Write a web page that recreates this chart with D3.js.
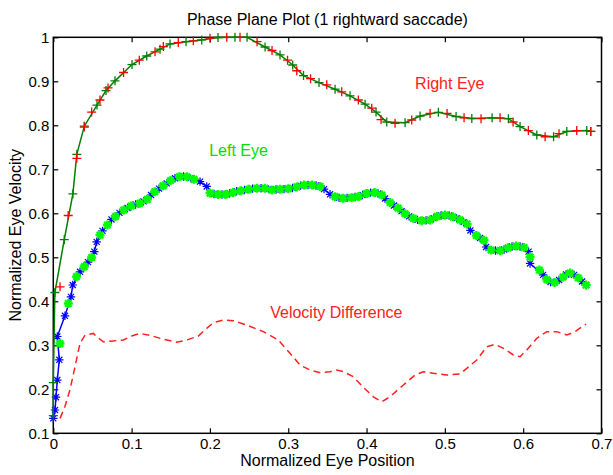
<!DOCTYPE html>
<html>
<head>
<meta charset="utf-8">
<script src="https://cdn.jsdelivr.net/npm/d3@7"></script>
<style>
  html, body { margin: 0; padding: 0; background: #fff; }
  svg { display: block; font-family: "Liberation Sans", Arial, Helvetica, sans-serif; }
</style>
</head>
<body>
<svg id="chart" width="613" height="475"></svg>
<script>
// Right eye: smoothed trace (green line + markers) and raw samples (red markers)
const rightEyeGreenX = [0.000, 0.000, 0.002, 0.014, 0.025, 0.030, 0.0396, 0.0558, 0.0673, 0.0788, 0.1005, 0.1193, 0.1363, 0.149, 0.1695, 0.1895, 0.2103, 0.232, 0.2474, 0.2704, 0.2895, 0.3057, 0.3195, 0.3393, 0.3598, 0.3789, 0.3981, 0.4121, 0.4258, 0.4492, 0.4683, 0.4917, 0.5143, 0.5344, 0.5603, 0.5811, 0.596, 0.6174, 0.6388, 0.6557, 0.6812, 0.6863];
const rightEyeGreenY = [0.140, 0.215, 0.420, 0.540, 0.644, 0.734, 0.798, 0.846, 0.879, 0.901, 0.938, 0.9575, 0.973, 0.985, 0.990, 0.994, 0.9995, 1.000, 1.000, 0.978, 0.960, 0.937, 0.913, 0.897, 0.882, 0.867, 0.848, 0.830, 0.8075, 0.806, 0.821, 0.8295, 0.820, 0.8155, 0.817, 0.815, 0.797, 0.778, 0.774, 0.786, 0.788, 0.786];
const rightEyeRedX = [0.0086, 0.019, 0.030, 0.0396, 0.049, 0.0596, 0.0699, 0.0897, 0.1098, 0.1299, 0.1405, 0.1596, 0.1788, 0.2001, 0.2215, 0.2384, 0.2602, 0.2793, 0.2991, 0.3109, 0.3285, 0.3492, 0.3683, 0.3895, 0.4066, 0.4185, 0.4364, 0.4577, 0.4811, 0.5028, 0.5245, 0.5462, 0.5705, 0.5871, 0.6066, 0.628, 0.6458, 0.6684, 0.6863];
const rightEyeRedY = [0.433, 0.595, 0.725, 0.796, 0.830, 0.8575, 0.885, 0.920, 0.948, 0.967, 0.979, 0.988, 0.992, 0.998, 1.000, 1.000, 0.990, 0.970, 0.948, 0.924, 0.906, 0.892, 0.876, 0.8575, 0.839, 0.813, 0.8045, 0.812, 0.827, 0.827, 0.817, 0.815, 0.817, 0.8075, 0.788, 0.774, 0.781, 0.788, 0.786];

// Left eye: blue trace with star markers, green star samples
const leftEyeBlueX = [0.000, 0.0022, 0.0034, 0.0051, 0.0077, 0.0051, 0.0149, 0.0226, 0.0248, 0.0341, 0.0443, 0.0524, 0.0554, 0.0628, 0.0743, 0.0845, 0.0948, 0.105, 0.1152, 0.1248, 0.135, 0.1448, 0.1554, 0.1663, 0.1752, 0.1874, 0.1959, 0.2052, 0.2155, 0.225, 0.234, 0.2442, 0.2544, 0.2653, 0.2748, 0.2844, 0.2946, 0.3055, 0.3157, 0.3253, 0.3355, 0.3457, 0.3534, 0.3649, 0.3751, 0.3853, 0.3949, 0.4051, 0.4147, 0.4236, 0.4351, 0.4447, 0.4543, 0.4651, 0.476, 0.4856, 0.4951, 0.5054, 0.515, 0.5239, 0.5326, 0.545, 0.5526, 0.5647, 0.5756, 0.5858, 0.596, 0.6069, 0.6088, 0.6254, 0.635, 0.6458, 0.6548, 0.665, 0.6752, 0.6803];
const leftEyeBlueY = [0.134, 0.153, 0.182, 0.221, 0.267, 0.320, 0.367, 0.410, 0.437, 0.467, 0.489, 0.513, 0.535, 0.560, 0.586, 0.601, 0.612, 0.620, 0.627, 0.6416, 0.656, 0.668, 0.6795, 0.6836, 0.680, 0.672, 0.661, 0.644, 0.6427, 0.6455, 0.650, 0.653, 0.656, 0.657, 0.655, 0.654, 0.655, 0.6575, 0.6625, 0.6643, 0.6632, 0.655, 0.6432, 0.635, 0.635, 0.637, 0.6416, 0.647, 0.645, 0.6336, 0.6177, 0.605, 0.593, 0.585, 0.584, 0.589, 0.595, 0.595, 0.589, 0.580, 0.561, 0.544, 0.5234, 0.5155, 0.5177, 0.5245, 0.5245, 0.513, 0.486, 0.460, 0.444, 0.4484, 0.461, 0.460, 0.445, 0.437];
const leftEyeGreenX = [0.0086, 0.0192, 0.0296, 0.0395, 0.049, 0.0596, 0.069, 0.0794, 0.0899, 0.0992, 0.1103, 0.12, 0.1295, 0.1401, 0.1497, 0.1612, 0.1708, 0.1797, 0.2001, 0.2103, 0.2199, 0.2295, 0.2391, 0.2493, 0.2598, 0.2704, 0.2793, 0.2895, 0.3001, 0.3109, 0.3202, 0.3304, 0.3406, 0.3598, 0.37, 0.3808, 0.3898, 0.400, 0.4102, 0.4194, 0.430, 0.4402, 0.4492, 0.4598, 0.4705, 0.4811, 0.490, 0.5003, 0.5101, 0.5194, 0.5284, 0.5402, 0.550, 0.559, 0.5705, 0.5807, 0.5909, 0.6011, 0.6088, 0.6207, 0.6301, 0.6401, 0.651, 0.6599, 0.6705, 0.6803];
const leftEyeGreenY = [0.304, 0.395, 0.456, 0.479, 0.4995, 0.5507, 0.5734, 0.5927, 0.6075, 0.6166, 0.6227, 0.6318, 0.649, 0.6625, 0.6745, 0.6832, 0.683, 0.6773, 0.646, 0.643, 0.643, 0.647, 0.651, 0.6545, 0.657, 0.657, 0.653, 0.6548, 0.656, 0.660, 0.6643, 0.6643, 0.661, 0.6377, 0.634, 0.6355, 0.638, 0.645, 0.647, 0.6416, 0.6245, 0.612, 0.599, 0.5886, 0.583, 0.585, 0.593, 0.596, 0.592, 0.585, 0.5757, 0.5495, 0.5386, 0.5166, 0.515, 0.5216, 0.5257, 0.5223, 0.5007, 0.471, 0.4495, 0.4427, 0.4552, 0.4643, 0.453, 0.437];

// Difference between the two eye velocities
const velDiffX = [0.0086, 0.0149, 0.0213, 0.0277, 0.0341, 0.0405, 0.0511, 0.0554, 0.0639, 0.0766, 0.0894, 0.1001, 0.1107, 0.1235, 0.1405, 0.1576, 0.1704, 0.1852, 0.1959, 0.2043, 0.2171, 0.2299, 0.247, 0.2682, 0.2874, 0.3023, 0.3151, 0.3278, 0.3406, 0.3534, 0.3619, 0.3704, 0.3831, 0.3959, 0.4087, 0.4194, 0.430, 0.447, 0.4619, 0.4725, 0.4853, 0.5024, 0.5194, 0.528, 0.5407, 0.5535, 0.5641, 0.5747, 0.5875, 0.596, 0.6046, 0.6174, 0.6301, 0.6429, 0.6557, 0.6663, 0.6748, 0.6803];
const velDiffY = [0.134, 0.161, 0.199, 0.251, 0.3045, 0.3234, 0.327, 0.3195, 0.308, 0.310, 0.3121, 0.321, 0.327, 0.3227, 0.3136, 0.307, 0.312, 0.321, 0.3386, 0.3514, 0.3575, 0.356, 0.346, 0.331, 0.312, 0.2818, 0.255, 0.2439, 0.2377, 0.240, 0.2439, 0.240, 0.2286, 0.2045, 0.183, 0.1718, 0.183, 0.2098, 0.2325, 0.240, 0.2364, 0.2325, 0.2348, 0.2477, 0.2666, 0.2968, 0.3023, 0.2932, 0.278, 0.274, 0.2893, 0.316, 0.331, 0.331, 0.3234, 0.331, 0.342, 0.348];

const xTicks = [0, 0.1, 0.2, 0.3, 0.4, 0.5, 0.6, 0.7];
const yTicks = [0.1, 0.2, 0.3, 0.4, 0.5, 0.6, 0.7, 0.8, 0.9, 1];

const titleText = "Phase Plane Plot (1 rightward saccade)";
const xLabelText = "Normalized Eye Position";
const yLabelText = "Normalized Eye Velocity";
const noteLabels = ["Right Eye", "Left Eye", "Velocity Difference"];
const noteX = [0.462, 0.199, 0.277];
const noteY = [0.882, 0.730, 0.363];

const svg = d3.select("#chart");
const margin = { left: 53.3, right: 613 - 601.5, top: 37.3, bottom: 475 - 433.3 };
const W = 613 - margin.left - margin.right;
const H = 475 - margin.top - margin.bottom;

const x = d3.scaleLinear().domain([0, 0.7]).range([0, W]);
const y = d3.scaleLinear().domain([0.1, 1]).range([H, 0]);

const g = svg.append("g").attr("transform", `translate(${margin.left},${margin.top})`);

const fmt = d => (d === 0 || d === 1) ? String(d) : d3.format(".1f")(d);

// Axes with inward ticks on all four sides
const axB = g.append("g").attr("transform", `translate(0,${H})`)
  .call(d3.axisBottom(x).tickValues(xTicks).tickFormat(fmt).tickSize(-5).tickPadding(5));
const axT = g.append("g")
  .call(d3.axisTop(x).tickValues(xTicks).tickFormat("").tickSize(-5));
const axL = g.append("g")
  .call(d3.axisLeft(y).tickValues(yTicks).tickFormat(fmt).tickSize(-5).tickPadding(4));
const axR = g.append("g").attr("transform", `translate(${W},0)`)
  .call(d3.axisRight(y).tickValues(yTicks).tickFormat("").tickSize(-5));
[axB, axT, axL, axR].forEach(a => {
  a.select(".domain").remove();
  a.selectAll(".tick line").attr("stroke", "#000").attr("stroke-width", 1.2);
  a.selectAll(".tick text").attr("font-size", 15).attr("fill", "#000")
    .attr("font-family", "Liberation Sans, Arial, sans-serif");
});

g.append("rect").attr("x", 0).attr("y", 0).attr("width", W).attr("height", H)
  .attr("fill", "none").attr("stroke", "#000").attr("stroke-width", 1.5);

const zip = (xs, ys) => xs.map((v, i) => [v, ys[i]]);
const line = d3.line().x(d => x(d[0])).y(d => y(d[1]));

const plusPath = "M-4.5,0H4.5M0,-4.5V4.5";
const starPath = r => {
  const k = r * 0.72;
  return `M${-r},0H${r}M0,${-r}V${r}M${-k},${-k}L${k},${k}M${-k},${k}L${k},${-k}`;
};

function drawMarkers(data, path, color, width) {
  g.append("g").selectAll("path").data(data).join("path")
    .attr("transform", d => `translate(${x(d[0])},${y(d[1])})`)
    .attr("d", path).attr("fill", "none")
    .attr("stroke", color).attr("stroke-width", width);
}

// Velocity difference (dashed)
g.append("path").datum(zip(velDiffX, velDiffY)).attr("d", line)
  .attr("fill", "none").attr("stroke", "#ff2020").attr("stroke-width", 1.5)
  .attr("stroke-dasharray", "7,4.5");

// Left eye
const leftBlue = zip(leftEyeBlueX, leftEyeBlueY);
g.append("path").datum(leftBlue).attr("d", line)
  .attr("fill", "none").attr("stroke", "#0000ff").attr("stroke-width", 1.5);
drawMarkers(leftBlue, starPath(4.2), "#0000ff", 1.2);
drawMarkers(zip(leftEyeGreenX, leftEyeGreenY), starPath(4.5), "#00ff00", 2.4);

// Right eye
const rightGreen = zip(rightEyeGreenX, rightEyeGreenY);
g.append("path").datum(rightGreen).attr("d", line)
  .attr("fill", "none").attr("stroke", "#008000").attr("stroke-width", 1.5);
drawMarkers(rightGreen, plusPath, "#008000", 1.3);
drawMarkers(zip(rightEyeRedX, rightEyeRedY), plusPath, "#ff0000", 1.3);

// Text annotations
const noteColors = ["#ff2020", "#00e000", "#ff2020"];
noteLabels.forEach((t, i) => {
  g.append("text").attr("x", x(noteX[i])).attr("y", y(noteY[i]))
    .attr("font-size", 16).attr("fill", noteColors[i]).text(t);
});

// Title and axis labels
svg.append("text").attr("x", margin.left + W / 2).attr("y", 25)
  .attr("text-anchor", "middle").attr("font-size", 16).attr("fill", "#000").text(titleText);
svg.append("text").attr("x", margin.left + W / 2).attr("y", 466)
  .attr("text-anchor", "middle").attr("font-size", 16).attr("fill", "#000").text(xLabelText);
svg.append("text").attr("transform", `translate(21,${margin.top + H / 2}) rotate(-90)`)
  .attr("text-anchor", "middle").attr("font-size", 16).attr("fill", "#000").text(yLabelText);
</script>
</body>
</html>
